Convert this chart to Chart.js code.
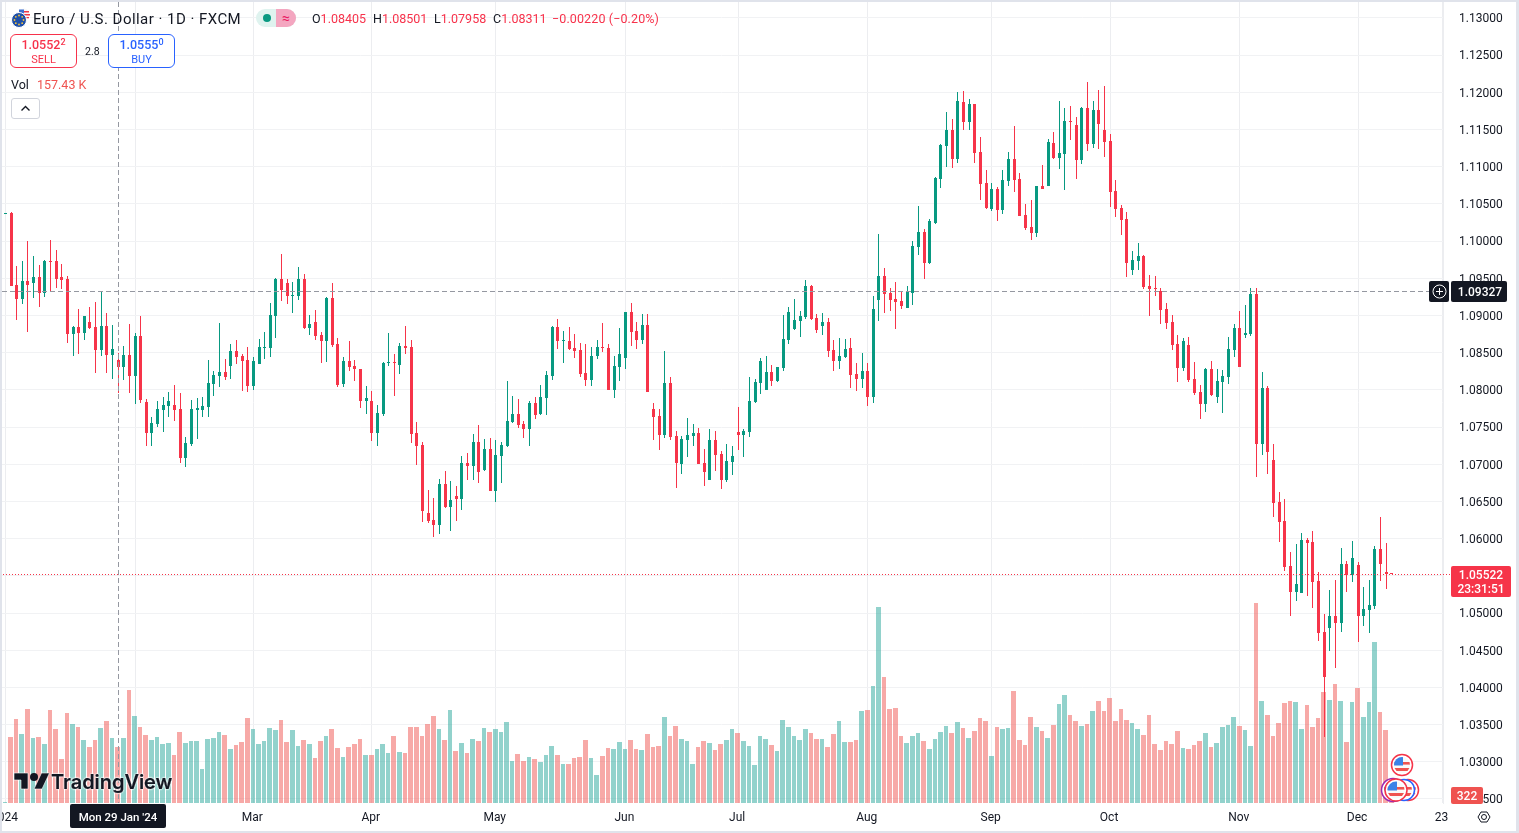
<!DOCTYPE html>
<html>
<head>
<meta charset="utf-8">
<title>EURUSD 1D</title>
<script src="https://cdn.jsdelivr.net/npm/chart.js@4/dist/chart.umd.min.js"></script>
<style>
  html, body { margin: 0; padding: 0; background: #fff; overflow: hidden; }
  #wrap { position: relative; width: 1519px; height: 833px; font-family: "Roboto", sans-serif; color: #131722; }
  #frame { position: absolute; left: 0; top: 0; right: 0; bottom: 0; border: solid #e0e3eb; border-width: 2px 3px 2px 2px; pointer-events: none; }
  canvas { position: absolute; left: 0; top: 0; }
  .t { position: absolute; white-space: nowrap; line-height: 18px; }
  .title { left: 33px; top: 10px; font-size: 15px; letter-spacing: 0.46px; }
  .ohlc { top: 10px; font-size: 12.5px; color: #f7324b; }
  .ohlc b { font-weight: 400; color: #131722; }
  .pill { position: absolute; left: 256px; top: 9px; width: 40px; height: 18px; border-radius: 9px; overflow: hidden; background: #dff3ef; }
  .pill i { position: absolute; left: 7px; top: 5px; width: 8px; height: 8px; border-radius: 50%; background: #089981; }
  .pill span { position: absolute; left: 20px; top: 0; width: 20px; height: 18px; background: #f4a6c0; color: #e91e63; font-size: 14px; line-height: 18px; text-align: center; }
  .box { position: absolute; top: 34px; width: 65px; height: 32px; border: 1px solid; border-radius: 6px; background: #fff; text-align: center; }
  .box .p { position: absolute; left: 0; right: 0; top: 2px; font-size: 12.5px; line-height: 16px; font-weight: 500; }
  .box sup { font-size: 9px; line-height: 0; vertical-align: 4px; }
  .box .s { position: absolute; left: 0; right: 0; top: 18px; font-size: 11px; line-height: 14px; }
  .sell { left: 10px; border-color: #f7324b; color: #f7324b; }
  .buy { left: 108px; border-color: #2962ff; color: #2962ff; }
  .btn { position: absolute; left: 11px; top: 98px; width: 27px; height: 19px; border: 1px solid #d1d4dc; border-radius: 3px; background: #fff; }
  .logo { position: absolute; left: 14px; top: 771px; height: 22px; }
  .logoText { position: absolute; left: 51px; top: 769px; font-family: "Inter", sans-serif; font-weight: 600; font-size: 20px; line-height: 26px; letter-spacing: -0.05px; color: #131722; -webkit-text-stroke: 0.2px #131722; text-shadow: 0 0 2px #fff, 0 0 2px #fff, 0 0 2px #fff; }
</style>
</head>
<body>
<div id="wrap">
  <canvas id="chart" width="1519" height="833"></canvas>

  <svg style="position:absolute;left:11px;top:8px" width="20" height="20" viewBox="0 0 20 20">
    <circle cx="13" cy="6" r="5.5" fill="#f7f7f7"/>
    <path d="M8 3h10v1.5H8zM8 6h11v1.5H8zM9 9h9v1.2H9z" fill="#f23645"/>
    <path d="M8 1.5h5v4H8z" fill="#3d6fd1"/>
    <circle cx="8" cy="12" r="7.5" fill="#1f50a8" stroke="#fff" stroke-width="1"/>
    <g fill="#f5c33b">
      <circle cx="8" cy="7.5" r="0.9"/><circle cx="11.2" cy="8.8" r="0.9"/><circle cx="12.5" cy="12" r="0.9"/>
      <circle cx="11.2" cy="15.2" r="0.9"/><circle cx="8" cy="16.5" r="0.9"/><circle cx="4.8" cy="15.2" r="0.9"/>
      <circle cx="3.5" cy="12" r="0.9"/><circle cx="4.8" cy="8.8" r="0.9"/>
    </g>
  </svg>
  <div class="t title">Euro / U.S. Dollar · 1D · FXCM</div>
  <div class="pill"><i></i><span>≈</span></div>
  <div class="t ohlc" style="left:312px"><b>O</b>1.08405</div>
  <div class="t ohlc" style="left:373px"><b>H</b>1.08501</div>
  <div class="t ohlc" style="left:434px"><b>L</b>1.07958</div>
  <div class="t ohlc" style="left:493px"><b>C</b>1.08311</div>
  <div class="t ohlc" style="left:552px;letter-spacing:0.12px">−0.00220 (−0.20%)</div>

  <div class="box sell"><div class="p">1.0552<sup>2</sup></div><div class="s">SELL</div></div>
  <div class="t" style="left:85px;top:43px;font-size:10.5px">2.8</div>
  <div class="box buy"><div class="p">1.0555<sup>0</sup></div><div class="s">BUY</div></div>

  <div class="t" style="left:11px;top:76px;font-size:12.5px">Vol</div>
  <div class="t" style="left:37px;top:76px;font-size:12.5px;color:#ef5350">157.43 K</div>
  <div class="btn">
    <svg width="27" height="19" viewBox="0 0 27 19"><path d="M9.5 11.5l4-4 4 4" fill="none" stroke="#131722" stroke-width="1.4"/></svg>
  </div>

  <svg class="logo" width="36" height="22" viewBox="0 0 36 22">
    <path d="M14 18H7V9H0V2h14v16zM28 18h-8L27.5 2h8L28 18z" fill="#131722" stroke="#fff" stroke-width="0.6"/>
    <circle cx="20" cy="6" r="4" fill="#131722"/>
  </svg>
  <div class="logoText">TradingView</div>

  <div id="frame"></div>
</div>

<script>
// Weekdays 1 Jan to 10 Dec 2024
const opens = [
  1.10370,1.10375,1.09407,1.09219,1.09461,1.09434,1.09515,1.09300,1.09730,1.09730,
  1.09515,1.09488,1.08749,1.08843,1.08762,1.08910,1.08843,1.08534,1.08856,1.08466,
  1.08405,1.08305,1.08466,1.08184,1.08722,1.07835,1.07418,1.07539,1.07727,1.07781,
  1.07794,1.07741,1.07082,1.07270,1.07727,1.07727,1.07767,1.08077,1.08184,1.08238,
  1.08319,1.08520,1.08453,1.08399,1.08050,1.08345,1.08560,1.08560,1.08991,1.09488,
  1.09434,1.09259,1.09259,1.09488,1.08829,1.08910,1.08735,1.08655,1.09232,1.08614,
  1.08077,1.08386,1.08319,1.08278,1.07848,1.07848,1.07418,1.07673,1.08359,1.08372,
  1.08332,1.08587,1.08574,1.07418,1.07257,1.06343,1.06249,1.06182,1.06733,1.06424,
  1.06571,1.06531,1.07015,1.06975,1.07297,1.06921,1.07203,1.06639,1.07109,1.07243,
  1.07566,1.07673,1.07539,1.07472,1.07821,1.07673,1.07888,1.08184,1.08843,1.08655,
  1.08655,1.08560,1.08534,1.08224,1.08130,1.08453,1.08574,1.08560,1.07996,1.08305,
  1.08426,1.09044,1.08789,1.08668,1.08870,1.07741,1.07647,1.07391,1.08090,1.07378,
  1.07001,1.07324,1.07378,1.07418,1.07015,1.06787,1.07324,1.07136,1.06787,1.07029,
  1.07432,1.07391,1.07432,1.07835,1.08090,1.07996,1.08238,1.08117,1.08292,1.08668,
  1.08816,1.08924,1.08977,1.09394,1.08964,1.08856,1.08910,1.08534,1.08386,1.08440,
  1.08561,1.08211,1.08144,1.08252,1.07902,1.09206,1.09528,1.09300,1.09219,1.09192,
  1.09102,1.09303,1.09922,1.10123,1.09706,1.10244,1.10835,1.11279,1.11494,1.11104,
  1.11870,1.11602,1.11843,1.11198,1.10782,1.10432,1.10701,1.10419,1.10809,1.11104,
  1.10835,1.10352,1.10190,1.10110,1.10741,1.10741,1.11319,1.11118,1.11171,1.11615,
  1.11561,1.11091,1.11790,1.11306,1.11763,1.11494,1.11346,1.10674,1.10446,1.10298,
  1.09612,1.09733,1.09801,1.09397,1.09370,1.09330,1.09088,1.08913,1.08617,1.08295,
  1.08604,1.08147,1.07972,1.07811,1.08281,1.07905,1.08107,1.08174,1.08537,1.08832,
  1.08738,1.08752,1.09289,1.07273,1.08026,1.07058,1.06494,1.06239,1.05634,1.05284,
  1.05271,1.05983,1.05956,1.05432,1.04747,1.04800,1.04962,1.04868,1.05661,1.05513,
  1.05647,1.04962,1.05042,1.05096,1.05862,1.05553,1.05540
];
const highs = [
  1.10370,1.10397,1.09662,1.09730,1.09999,1.09797,1.09676,1.09743,1.10012,1.09878,
  1.09689,1.09528,1.08856,1.09085,1.08991,1.09111,1.09179,1.09335,1.09031,1.08870,
  1.08501,1.08587,1.08883,1.08762,1.08991,1.07875,1.07633,1.07848,1.07902,1.07969,
  1.08063,1.07956,1.07364,1.07862,1.07888,1.07902,1.08399,1.08251,1.08896,1.08413,
  1.08614,1.08668,1.08480,1.08574,1.08439,1.08681,1.08775,1.09165,1.09501,1.09824,
  1.09488,1.09447,1.09649,1.09555,1.09004,1.09071,1.08775,1.09246,1.09434,1.08695,
  1.08439,1.08655,1.08399,1.08278,1.08050,1.07983,1.07794,1.08372,1.08762,1.08480,
  1.08628,1.08856,1.08668,1.07566,1.07297,1.06652,1.06544,1.06800,1.06907,1.06773,
  1.06706,1.07109,1.07149,1.07405,1.07526,1.07337,1.07351,1.07324,1.07297,1.08117,
  1.07915,1.07875,1.07579,1.07848,1.07902,1.08063,1.08251,1.08856,1.08950,1.08789,
  1.08843,1.08749,1.08628,1.08614,1.08574,1.08668,1.08896,1.08614,1.08453,1.08829,
  1.09044,1.09165,1.08910,1.09017,1.09017,1.07821,1.07741,1.08520,1.08171,1.07445,
  1.07378,1.07620,1.07539,1.07485,1.07203,1.07472,1.07445,1.07176,1.07270,1.07244,
  1.07768,1.07472,1.08171,1.08144,1.08426,1.08453,1.08332,1.08305,1.09004,1.09112,
  1.09219,1.09058,1.09475,1.09407,1.09018,1.09031,1.08964,1.08668,1.08695,1.08682,
  1.08695,1.08359,1.08493,1.08359,1.09260,1.10093,1.09636,1.09367,1.09448,1.09313,
  1.09397,1.10002,1.10473,1.10163,1.10298,1.10862,1.11306,1.11736,1.11642,1.12005,
  1.12018,1.11911,1.11843,1.11400,1.10956,1.10782,1.10728,1.10956,1.11198,1.11548,
  1.10916,1.10499,1.10553,1.10741,1.11024,1.11373,1.11467,1.11884,1.11790,1.11817,
  1.11669,1.11803,1.12139,1.11884,1.12032,1.12085,1.11440,1.10822,1.10486,1.10392,
  1.09868,1.09975,1.09814,1.09545,1.09532,1.09370,1.09169,1.09007,1.08738,1.08698,
  1.08712,1.08376,1.08066,1.08295,1.08389,1.08281,1.08268,1.08712,1.08886,1.09061,
  1.09142,1.09370,1.09370,1.08241,1.08053,1.07273,1.06628,1.06534,1.05822,1.05929,
  1.06077,1.06010,1.06104,1.05553,1.04989,1.05311,1.05446,1.05876,1.05701,1.05970,
  1.05688,1.05352,1.05446,1.05903,1.06292,1.05943,1.05540
];
const lows = [
  1.10370,1.09394,1.08937,1.09152,1.08775,1.09232,1.09111,1.09246,1.09313,1.09367,
  1.09353,1.08628,1.08453,1.08480,1.08668,1.08816,1.08224,1.08453,1.08224,1.08144,
  1.07958,1.08130,1.07956,1.07808,1.07821,1.07243,1.07243,1.07499,1.07431,1.07633,
  1.07579,1.07015,1.06961,1.07243,1.07337,1.07633,1.07633,1.07915,1.08036,1.08130,
  1.08144,1.08345,1.07983,1.07969,1.07996,1.08345,1.08413,1.08439,1.08695,1.09192,
  1.09152,1.09031,1.09206,1.08816,1.08735,1.08668,1.08359,1.08372,1.08574,1.08036,
  1.08036,1.08251,1.08117,1.07754,1.07673,1.07311,1.07243,1.07647,1.08319,1.07915,
  1.08211,1.08480,1.07284,1.06988,1.06222,1.06208,1.06020,1.06061,1.06410,1.06101,
  1.06235,1.06383,1.06786,1.06786,1.06746,1.06907,1.06639,1.06491,1.06746,1.07230,
  1.07552,1.07485,1.07351,1.07243,1.07606,1.07660,1.07660,1.08130,1.08547,1.08359,
  1.08534,1.08426,1.08171,1.08050,1.08050,1.08413,1.08507,1.07996,1.07888,1.08117,
  1.08278,1.08587,1.08547,1.08614,1.07969,1.07324,1.07190,1.07351,1.07324,1.06679,
  1.06867,1.07096,1.07243,1.07001,1.06706,1.06787,1.06908,1.06666,1.06760,1.06854,
  1.07190,1.07096,1.07365,1.07821,1.07942,1.07996,1.08050,1.08104,1.08252,1.08614,
  1.08803,1.08709,1.08950,1.08937,1.08762,1.08735,1.08440,1.08252,1.08278,1.08426,
  1.08023,1.07983,1.08023,1.07781,1.07821,1.08924,1.09031,1.09058,1.08816,1.09085,
  1.09102,1.09142,1.09814,1.09491,1.09693,1.10231,1.10714,1.10997,1.10983,1.11050,
  1.11494,1.11494,1.11050,1.10553,1.10432,1.10405,1.10271,1.10365,1.10741,1.10661,
  1.10338,1.10150,1.10016,1.10056,1.10701,1.10741,1.11104,1.10970,1.10688,1.11360,
  1.10835,1.11037,1.11212,1.11252,1.11239,1.11131,1.10459,1.10325,1.10083,1.09518,
  1.09545,1.09612,1.09357,1.08994,1.09263,1.08887,1.08819,1.08537,1.08107,1.08255,
  1.08107,1.07932,1.07609,1.07704,1.07919,1.07824,1.07690,1.08080,1.08443,1.08308,
  1.08698,1.08725,1.06830,1.07126,1.06870,1.06292,1.05956,1.05567,1.04962,1.05163,
  1.05271,1.05231,1.05069,1.04626,1.03327,1.04491,1.04263,1.04747,1.05284,1.05419,
  1.04612,1.04827,1.04733,1.05056,1.05432,1.05325,1.05522
];
const closes = [
  1.10370,1.09394,1.09219,1.09461,1.09407,1.09515,1.09300,1.09730,1.09716,1.09488,
  1.09474,1.08749,1.08843,1.08762,1.08991,1.08829,1.08534,1.08856,1.08466,1.08547,
  1.08311,1.08466,1.08184,1.08722,1.07862,1.07418,1.07552,1.07741,1.07794,1.07848,
  1.07727,1.07082,1.07284,1.07741,1.07754,1.07781,1.08090,1.08198,1.08238,1.08171,
  1.08520,1.08439,1.08386,1.08050,1.08386,1.08574,1.08574,1.09004,1.09488,1.09340,
  1.09259,1.09273,1.09488,1.08829,1.08883,1.08722,1.08655,1.09232,1.08601,1.08063,
  1.08386,1.08305,1.08278,1.07848,1.07888,1.07418,1.07687,1.08359,1.08372,1.08359,
  1.08587,1.08560,1.07405,1.07243,1.06370,1.06235,1.06182,1.06733,1.06424,1.06518,
  1.06531,1.07015,1.06975,1.07297,1.06894,1.07203,1.06639,1.07122,1.07257,1.07579,
  1.07673,1.07526,1.07472,1.07821,1.07660,1.07902,1.08198,1.08843,1.08655,1.08668,
  1.08547,1.08520,1.08211,1.08130,1.08453,1.08574,1.08560,1.07996,1.08319,1.08480,
  1.09044,1.08776,1.08668,1.08870,1.07969,1.07633,1.07391,1.08090,1.07364,1.07015,
  1.07337,1.07391,1.07418,1.07001,1.06894,1.07324,1.07123,1.06787,1.07042,1.07109,
  1.07391,1.07445,1.07848,1.08104,1.08386,1.08238,1.08117,1.08305,1.08682,1.09045,
  1.08937,1.08991,1.09394,1.08950,1.08803,1.08910,1.08520,1.08386,1.08453,1.08547,
  1.08198,1.08144,1.08252,1.07902,1.09085,1.09528,1.09286,1.09206,1.09179,1.09125,
  1.09317,1.09935,1.10123,1.09706,1.10271,1.10849,1.11292,1.11494,1.11104,1.11884,
  1.11602,1.11843,1.11185,1.10768,1.10446,1.10701,1.10419,1.10822,1.11104,1.10822,
  1.10338,1.10177,1.10110,1.10741,1.10701,1.11333,1.11118,1.11185,1.11615,1.11602,
  1.11091,1.11790,1.11306,1.11763,1.11575,1.11333,1.10661,1.10432,1.10284,1.09706,
  1.09747,1.09801,1.09384,1.09357,1.09357,1.09075,1.08900,1.08604,1.08295,1.08658,
  1.08134,1.07959,1.07811,1.08281,1.07932,1.08120,1.08187,1.08550,1.08832,1.08308,
  1.08765,1.09289,1.07273,1.08026,1.07166,1.06480,1.06225,1.05620,1.05284,1.05392,
  1.05983,1.05943,1.05419,1.04733,1.04142,1.04962,1.04868,1.05661,1.05513,1.05741,
  1.04962,1.05056,1.05110,1.05862,1.05661,1.05526,1.05522
];
// Volume in thousands
const volumes = [
  3,185,236,194,264,183,185,166,261,208,
  124,253,222,214,177,157,177,211,230,183,
  157,183,318,244,214,191,177,185,166,169,
  135,200,169,174,174,96,180,183,200,191,
  152,163,171,239,208,166,174,211,205,233,
  171,205,160,177,166,126,174,188,208,155,
  129,157,166,180,135,135,152,166,141,188,
  143,141,214,214,188,222,244,208,177,261,
  146,169,141,180,174,211,200,208,200,228,
  118,138,118,129,124,115,135,160,135,110,
  110,126,129,177,126,79,132,155,152,171,
  152,177,152,149,194,157,160,242,188,216,
  180,174,110,157,174,169,149,166,177,208,
  197,174,160,107,188,180,163,146,233,214,
  188,177,208,197,180,180,157,194,230,171,
  171,177,259,261,329,551,354,264,267,188,
  169,188,197,174,152,180,200,216,197,228,
  211,183,202,239,230,132,214,208,211,315,
  177,163,242,214,202,183,219,278,303,247,
  230,216,222,259,287,259,295,230,264,233,
  225,208,191,247,166,149,174,166,202,155,
  152,163,174,197,157,169,214,219,242,216,
  205,160,562,287,247,188,225,281,287,284,
  208,275,214,239,312,289,334,287,171,284,
  323,242,284,452,256,205,0.322
];
const priceTicks = [1.13,1.125,1.12,1.115,1.11,1.105,1.10,1.095,1.09,1.085,1.08,1.075,1.07,1.065,1.06,1.055,1.05,1.045,1.04,1.035,1.03,1.025];
const dateTickIndex = [0,23,44,65,87,110,130,153,175,196,219,240,255];
const dateTickLabels = ["2024","Feb","Mar","Apr","May","Jun","Jul","Aug","Sep","Oct","Nov","Dec","23"];

const crossIndex = 20;
const crossPrice = 1.09327;
const lastPrice = 1.05522;

const UP = "#089981";
const DOWN = "#f63449";
const VOL_UP = "rgba(38,166,154,0.5)";
const VOL_DOWN = "rgba(239,83,80,0.5)";
const LABEL_FONT = '12px "Roboto", sans-serif';

const isUp = opens.map((o, i) => closes[i] >= o);

// Snap bars to whole pixels so the thin wicks stay sharp
const pixelSnap = {
  id: "pixelSnap",
  afterDatasetsUpdate(chart) {
    chart.data.datasets.forEach((ds, d) => {
      chart.getDatasetMeta(d).data.forEach(el => {
        if (ds.snapVolume) {
          const left = Math.round(el.x - 2.82);
          const right = Math.round(el.x + 2.82) - 1;
          el.x = (left + right) / 2;
          el.width = right - left;
        } else {
          el.x = Math.floor(el.x) + 0.5;
        }
        const y = Math.round(el.y);
        let base = Math.round(el.base);
        if (y === base) base = y + 1;
        el.y = y;
        el.base = base;
      });
    });
  }
};

function labelBox(ctx, x, y, w, h, color, r) {
  ctx.fillStyle = color;
  ctx.beginPath();
  ctx.roundRect(x, y, w, h, r || 0);
  ctx.fill();
}

function flagBadge(ctx, cx, cy, r, ring) {
  ctx.save();
  ctx.beginPath();
  ctx.arc(cx, cy, r, 0, Math.PI * 2);
  ctx.fillStyle = "#fff";
  ctx.fill();
  ctx.lineWidth = 1.5;
  ctx.strokeStyle = ring;
  ctx.stroke();
  ctx.beginPath();
  ctx.arc(cx, cy, r - 2.5, 0, Math.PI * 2);
  ctx.clip();
  ctx.fillStyle = "#f9f9f9";
  ctx.fillRect(cx - r, cy - r, 2 * r, 2 * r);
  ctx.fillStyle = "#ef5350";
  ctx.fillRect(cx - r, cy - 3, 2 * r, 2.6);
  ctx.fillRect(cx - r, cy + 3, 2 * r, 3);
  ctx.fillStyle = "#3b82e8";
  ctx.fillRect(cx - r, cy - r, r + 1, r + 0.5);
  ctx.restore();
}

// Crosshair, last price line and the labels on top of the axes
const overlays = {
  id: "overlays",
  afterDraw(chart) {
    const ctx = chart.ctx;
    const xs = chart.scales.x, ys = chart.scales.y;
    const area = chart.chartArea;
    const lastY = Math.round(ys.getPixelForValue(lastPrice)) + 0.5;
    const crossY = Math.round(ys.getPixelForValue(crossPrice)) + 0.5;
    const crossX = Math.floor(xs.getPixelForValue(crossIndex)) + 0.5;

    ctx.save();
    ctx.lineWidth = 1;
    ctx.strokeStyle = DOWN;
    ctx.setLineDash([1, 2]);
    ctx.beginPath();
    ctx.moveTo(area.left, lastY);
    ctx.lineTo(area.right + 8, lastY);
    ctx.stroke();

    ctx.strokeStyle = "#9598a1";
    ctx.setLineDash([5, 3]);
    ctx.beginPath();
    ctx.moveTo(2, crossY);
    ctx.lineTo(1429, crossY);
    ctx.moveTo(crossX, 2);
    ctx.lineTo(crossX, area.bottom);
    ctx.stroke();
    ctx.setLineDash([]);

    flagBadge(ctx, 1408, 790, 10.5, "#f63449");
    flagBadge(ctx, 1404, 790, 10.5, "#2962ff");
    flagBadge(ctx, 1393, 790, 11.5, "#9c27b0");
    flagBadge(ctx, 1396, 790, 11, "#f63449");
    flagBadge(ctx, 1402, 765, 10.5, "#f63449");

    ctx.textAlign = "center";
    ctx.textBaseline = "middle";
    ctx.font = '500 ' + LABEL_FONT;

    labelBox(ctx, 1451, 566, 60, 31, "#f63449", 2);
    ctx.fillStyle = "#fff";
    ctx.fillText(lastPrice.toFixed(5), 1481, 575.5);
    ctx.fillText("23:31:51", 1481, 589.5);

    labelBox(ctx, 1451, 787, 32, 17, "#ef5350", 2);
    ctx.fillStyle = "#fff";
    ctx.fillText("322", 1467, 796.5);

    labelBox(ctx, 1429, 281, 20, 21, "#131722", 2);
    ctx.strokeStyle = "#fff";
    ctx.beginPath();
    ctx.arc(1439.5, 291.5, 6.5, 0, Math.PI * 2);
    ctx.moveTo(1436, 291.5);
    ctx.lineTo(1443, 291.5);
    ctx.moveTo(1439.5, 288);
    ctx.lineTo(1439.5, 295);
    ctx.stroke();

    labelBox(ctx, 1451, 281, 56, 21, "#131722", 2);
    ctx.fillStyle = "#fff";
    ctx.fillText(crossPrice.toFixed(5), 1480, 292.5);

    labelBox(ctx, 70, 804, 96, 24, "#131722", 2);
    ctx.fillStyle = "#fff";
    ctx.font = '500 11.5px "Roboto", sans-serif';
    ctx.fillText("Mon 29 Jan '24", 118, 818);

    // settings glyph bottom right
    ctx.strokeStyle = "#131722";
    ctx.beginPath();
    ctx.moveTo(1478, 817);
    ctx.lineTo(1481, 812);
    ctx.lineTo(1487, 812);
    ctx.lineTo(1490, 817);
    ctx.lineTo(1487, 822);
    ctx.lineTo(1481, 822);
    ctx.closePath();
    ctx.moveTo(1486.5, 817);
    ctx.arc(1484, 817, 2.5, 0, Math.PI * 2);
    ctx.stroke();
    ctx.restore();
  }
};

const xValues = opens.map((_, i) => i);
const ctx = document.getElementById("chart").getContext("2d");

new Chart(ctx, {
  type: "bar",
  plugins: [pixelSnap, overlays],
  data: {
    datasets: [
      {
        label: "Body",
        data: xValues.map(i => ({ x: i, y: [opens[i], closes[i]] })),
        backgroundColor: isUp.map(u => (u ? UP : DOWN)),
        barThickness: 3,
        minBarLength: 1,
        grouped: false,
        inflateAmount: 0,
        yAxisID: "y"
      },
      {
        label: "Wick",
        data: xValues.map(i => ({ x: i, y: [lows[i], highs[i]] })),
        backgroundColor: isUp.map(u => (u ? UP : DOWN)),
        barThickness: 1,
        minBarLength: 1,
        grouped: false,
        inflateAmount: 0,
        yAxisID: "y"
      },
      {
        label: "Vol",
        snapVolume: true,
        data: xValues.map(i => ({ x: i, y: volumes[i] })),
        backgroundColor: isUp.map(u => (u ? VOL_UP : VOL_DOWN)),
        barThickness: 5,
        minBarLength: 1,
        grouped: false,
        inflateAmount: 0,
        yAxisID: "vol"
      }
    ]
  },
  options: {
    responsive: false,
    animation: false,
    devicePixelRatio: 1,
    events: [],
    layout: { padding: { top: 2 } },
    plugins: { legend: { display: false }, tooltip: { enabled: false }, title: { display: false } },
    scales: {
      x: {
        type: "linear",
        offset: false,
        min: -0.958,
        max: 255.07,
        afterBuildTicks(scale) {
          scale.ticks = dateTickIndex.map(v => ({ value: v }));
        },
        afterFit(scale) {
          scale.height = 30;
          scale.paddingLeft = 0;
          scale.paddingRight = 0;
        },
        grid: { color: "#ecedf0", drawTicks: false, offset: false },
        border: { display: false },
        ticks: {
          autoSkip: false,
          maxRotation: 0,
          minRotation: 0,
          padding: 8,
          labelOffset: -1,
          color: "#131722",
          font: { family: "Roboto", size: 12 },
          callback: v => dateTickLabels[dateTickIndex.indexOf(v)]
        }
      },
      y: {
        position: "right",
        min: 1.024461,
        max: 1.132151,
        afterBuildTicks(scale) {
          scale.ticks = priceTicks.map(v => ({ value: v }));
        },
        afterFit(scale) {
          scale.width = 76;
          scale.paddingTop = 0;
          scale.paddingBottom = 0;
        },
        grid: { color: "#f1f2f4", drawTicks: false },
        border: { display: true, color: "#ecedf0" },
        ticks: {
          autoSkip: false,
          padding: 16,
          labelOffset: 1.3,
          color: "#131722",
          font: { family: "Roboto", size: 12 },
          callback: v => v.toFixed(5)
        }
      },
      vol: {
        display: false,
        position: "left",
        min: 0,
        max: 2251
      }
    }
  }
});
</script>
</body>
</html>
